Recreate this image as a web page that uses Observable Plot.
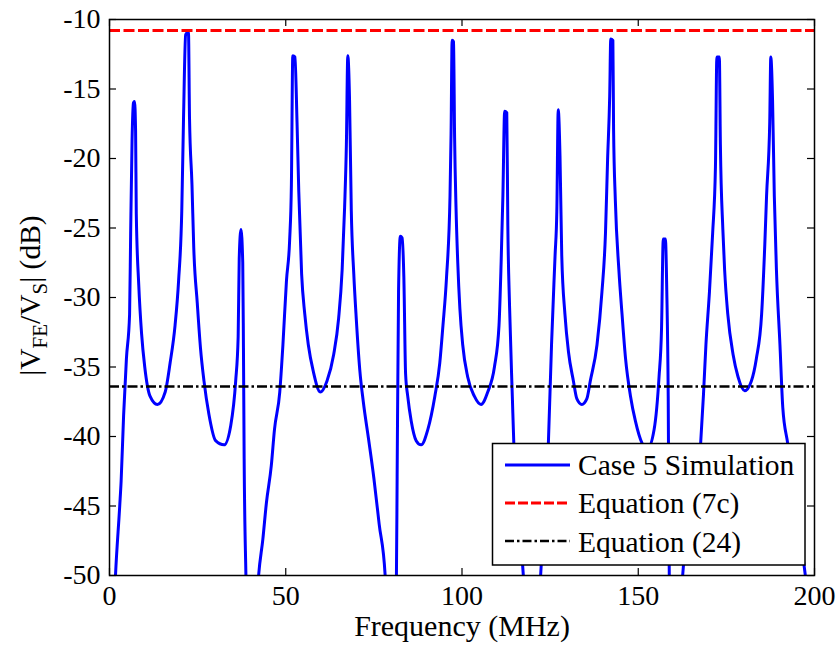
<!DOCTYPE html>
<html>
<head>
<meta charset="utf-8">
<script src="https://cdn.jsdelivr.net/npm/d3@7"></script>
<script src="https://cdn.jsdelivr.net/npm/@observablehq/plot@0.6"></script>
<style>
  body { margin: 0; background: #fff; }
  #chart svg { display: block; }
</style>
</head>
<body>
<div id="chart"></div>
<script>
// ---- data ----
const freqMHz = [
  0, 1.7, 2.9, 3.3, 4.0, 4.8, 5.7, 6.0, 6.4, 6.8, 7.1, 7.4, 7.6, 8.3, 9.1, 10.0, 11.5, 13.6, 15.8, 17.2, 18.6, 19.6, 20.5, 21.0, 21.6, 22.4, 22.7, 23.4, 23.9, 24.9, 25.8, 26.8, 28.2, 30.1, 32.5, 34.4, 35.8, 36.5, 36.8, 37.3, 37.8, 38.0, 38.2, 38.7, 40.0,
  42.3, 43.5, 44.5, 45.9, 46.8, 48.3, 49.2, 50.2, 51.1, 51.6, 52.0, 52.6, 53.2, 53.7, 54.5, 55.4, 56.4, 57.8, 59.8, 61.7, 63.6, 65.0, 66.0, 66.7, 67.2, 67.6, 68.1, 68.6, 69.3, 70.0, 71.0, 72.0, 73.5, 75.0, 76.5, 78.2, 80.0,
  81.4, 81.6, 82.0, 82.5, 83.0, 83.5, 84.0, 84.6, 85.6, 87.0, 88.4, 90.3, 92.3, 93.7, 94.6, 95.6, 96.6, 96.9, 97.2, 97.6, 97.9, 98.3, 98.8, 99.4, 100.2, 101.6, 103.5, 105.4, 107.3, 109.2, 110.5, 111.1, 111.6, 112.1, 112.7, 113.0, 113.5, 114.3, 114.7, 115.5, 117.4, 119.8,
  122.3, 124.5, 125.4, 126.4, 126.9, 127.3, 127.8, 128.3, 129.2, 130.2, 131.6, 132.6, 134.0, 135.4, 136.4, 138.3, 139.7, 140.7, 141.3, 141.9, 142.2, 142.8, 143.0, 143.5, 144.5, 145.4, 146.4, 147.8, 149.2, 151.1, 152.6, 154.5, 155.9, 156.6, 157.1, 157.7, 158.1, 158.5, 158.8, 160.7,
  162.6, 165.0, 167.7, 168.5, 169.2, 170.2, 171.1, 171.9, 172.3, 173.0, 173.3, 174.0, 174.5, 175.4, 176.9, 178.3, 180.2, 182.1, 183.5, 185.0, 185.9, 186.4, 187.3, 187.6, 188.1, 188.6, 189.2, 190.2, 191.0, 192.4, 194.5, 197.4, 200.0
];
const simDb = [
  -62, -50, -45, -43.2, -38.5, -34.4, -31.2, -25.4, -18.7, -16.0, -15.9, -18.0, -24.0, -29.1, -32.6, -35.0, -37.1, -37.7, -36.8, -34.7, -32.0, -28.8, -23.8, -17.1, -11.1, -10.9, -17.1, -21.9, -26.4, -30.4, -33.6, -36.0, -38.4, -40.3, -40.6, -39.2, -36.0, -32.8, -27.2, -25.1, -27.5, -33.6, -41.6, -50, -62,
  -50, -47.4, -44.8, -42.1, -39.5, -36.8, -33.4, -28.8, -25.9, -21.9, -12.6, -12.7, -17.4, -22.4, -28.3, -31.2, -33.4, -35.3, -36.8, -36.0, -34.1, -31.5, -28.0, -23.5, -19.0, -12.6, -15.8, -23.8, -28.3, -31.5, -35.2, -37.5, -40.2, -43.0, -46.3, -50, -62,
  -50, -42.9, -29.6, -25.6, -25.7, -28.5, -35.5, -37.1, -38.9, -40.3, -40.6, -39.5, -37.1, -34.7, -32.0, -28.6, -22.7, -18.2, -11.5, -11.6, -18.5, -23.5, -27.5, -30.8, -33.4, -35.7, -37.1, -37.7, -36.8, -35.0, -32.0, -27.5, -22.7, -16.6, -16.7, -24.8, -30.7, -37.3, -40.5, -44.0, -50, -62,
  -50, -40.5, -33.4, -27.0, -23.8, -16.5, -19.8, -27.0, -31.2, -33.9, -36.0, -37.3, -37.7, -37.3, -36.0, -33.4, -29.6, -25.4, -20.1, -15.5, -11.4, -11.5, -17.9, -23.0, -28.0, -31.2, -34.4, -37.1, -38.9, -40.5, -40.9, -39.5, -35.7, -32.3, -25.8, -25.8, -29.6, -37.1, -50, -62,
  -50, -45.5, -40.5, -37.0, -33.4, -29.6, -25.4, -20.6, -12.7, -12.7, -19.0, -25.1, -28.0, -31.2, -34.1, -35.7, -36.7, -36.0, -34.4, -31.2, -26.2, -22.7, -17.4, -12.7, -15.8, -22.7, -28.0, -33.4, -37.9, -40.5, -44.5, -50, -56
];
const eq7cDb = -10.8;
const eq24Db = -36.4;
const xTicks = [0, 50, 100, 150, 200];
const yTicks = [-50, -45, -40, -35, -30, -25, -20, -15, -10];
const seriesNames = ["Case 5 Simulation", "Equation (7c)", "Equation (24)"];
const xLabel = "Frequency (MHz)";

// ---- build ----
const sim = freqMHz.map((f, i) => ({f, db: simDb[i]}));
const W = 840, H = 647;
const mL = 109, mR = 26, mT = 19, mB = 72;
const innerW = W - mL - mR, innerH = H - mT - mB;
const font = "'Liberation Serif', 'Times New Roman', serif";
const tickLen = 7;

const chart = Plot.plot({
  width: W,
  height: H,
  marginLeft: mL,
  marginRight: mR,
  marginTop: mT,
  marginBottom: mB,
  style: {fontFamily: font, fontSize: "28px", background: "#fff", color: "#000"},
  x: {domain: [0, 200]},
  y: {domain: [-50, -10]},
  marks: [
    Plot.line(sim, {x: "f", y: "db", stroke: "#0000ff", strokeWidth: 3, clip: true, curve: "monotone-x"}),
    Plot.ruleY([eq7cDb], {stroke: "#ff0000", strokeWidth: 3, strokeDasharray: "11,3.5"}),
    Plot.ruleY([eq24Db], {stroke: "#000", strokeWidth: 2.5, strokeDasharray: "10,3,2.5,3"}),
    // inward ticks on all four sides
    Plot.tickX(xTicks, {x: d => d, insetTop: innerH - tickLen, stroke: "#000", strokeWidth: 1.2}),
    Plot.tickX(xTicks, {x: d => d, insetBottom: innerH - tickLen, stroke: "#000", strokeWidth: 1.2}),
    Plot.tickY(yTicks, {y: d => d, insetRight: innerW - tickLen, stroke: "#000", strokeWidth: 1.2}),
    Plot.tickY(yTicks, {y: d => d, insetLeft: innerW - tickLen, stroke: "#000", strokeWidth: 1.2}),
    Plot.frame({stroke: "#000", strokeWidth: 1.5}),
    Plot.axisX({ticks: xTicks, tickSize: 0, tickPadding: 10, tickFormat: d => String(d), label: null, fontSize: 28}),
    Plot.axisY({ticks: yTicks, tickSize: 0, tickPadding: 9, tickFormat: d => String(d), label: null, fontSize: 28}),
    Plot.text([xLabel], {text: d => d, frameAnchor: "bottom", dy: 60, fontSize: 30})
  ]
});
document.getElementById("chart").appendChild(chart);

const svg = d3.select(chart);

// y-axis label with subscripts
const yl = svg.append("text")
  .attr("transform", "translate(40,295.5) rotate(-90)")
  .attr("text-anchor", "middle")
  .attr("font-family", font)
  .attr("font-size", 29.5)
  .attr("fill", "#000");
yl.append("tspan").text("|V");
yl.append("tspan").attr("font-size", 21).attr("dy", 7).text("FE");
yl.append("tspan").attr("dy", -7).text("/V");
yl.append("tspan").attr("font-size", 21).attr("dy", 7).text("S");
yl.append("tspan").attr("dy", -7).text("| (dB)");

// legend
const lg = svg.append("g").attr("font-family", font).attr("font-size", 29.5).attr("text-anchor", "start");
lg.append("rect").attr("x", 492.5).attr("y", 443.5).attr("width", 312.5).attr("height", 121.5)
  .attr("fill", "#fff").attr("stroke", "#000").attr("stroke-width", 1.5);
const rows = [
  {name: seriesNames[0], stroke: "#0000ff", dash: null, sw: 3, ly: 465, ty: 475},
  {name: seriesNames[1], stroke: "#ff0000", dash: "10,3", sw: 3, ly: 503, ty: 513},
  {name: seriesNames[2], stroke: "#000", dash: "9,3,2.5,3", sw: 2.5, ly: 541, ty: 552}
];
rows.forEach(r => {
  const ln = lg.append("line").attr("x1", 505).attr("x2", 570).attr("y1", r.ly).attr("y2", r.ly)
    .attr("stroke", r.stroke).attr("stroke-width", r.sw);
  if (r.dash) ln.attr("stroke-dasharray", r.dash);
  lg.append("text").attr("x", 578).attr("y", r.ty).attr("text-anchor", "start").attr("fill", "#000").text(r.name);
});
</script>
</body>
</html>
